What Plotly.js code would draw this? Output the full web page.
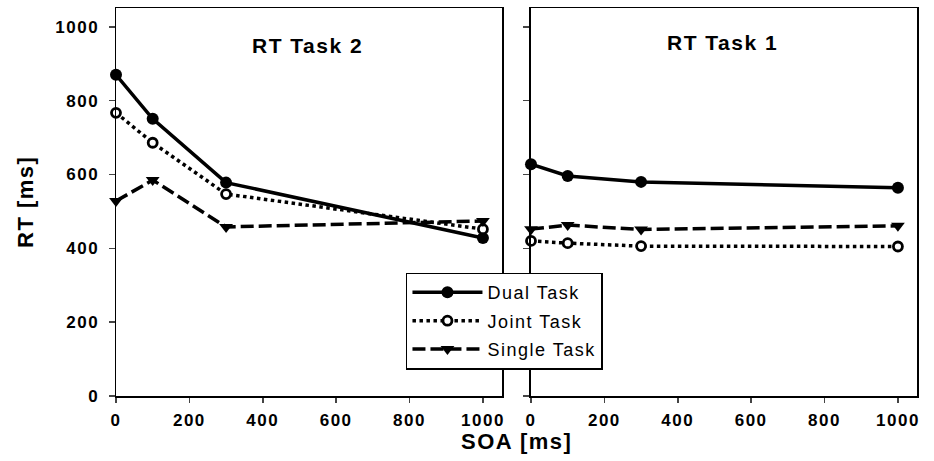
<!DOCTYPE html>
<html>
<head>
<meta charset="utf-8">
<script src="https://cdn.plot.ly/plotly-3.0.1.min.js"></script>
<style>
html,body{margin:0;padding:0;background:#fff;}
#chart{width:934px;height:461px;}
svg text{letter-spacing:1.5px;}
</style>
</head>
<body>
<div id="chart"></div>
<script>
var soa = [0, 100, 300, 1000];
var task2Dual = [870, 751, 578, 428];
var task2Joint = [767, 686, 547, 452];
var task2Single = [528, 585, 458, 474];
var task1Dual = [628, 596, 580, 564];
var task1Joint = [420, 414, 406, 405];
var task1Single = [452, 463, 451, 461];
var seriesNames = ['Dual Task', 'Joint Task', 'Single Task'];
var panelTitles = ['RT Task 2', 'RT Task 1'];
var xTicks = [0, 200, 400, 600, 800, 1000];
var yTicks = [0, 200, 400, 600, 800, 1000];

var FONT = 'Arial, Liberation Sans, sans-serif';
var styles = [
  {line: {color: 'black', width: 3.5, dash: 'solid'}, marker: {symbol: 'circle', size: 12, color: 'black'}},
  {line: {color: 'black', width: 3.5, dash: 'dot'}, marker: {symbol: 'circle', size: 9, color: 'white', line: {color: 'black', width: 2.8}}},
  {line: {color: 'black', width: 3.5, dash: '13px,5px'}, marker: {symbol: 'triangle-down', size: 12, color: 'black'}}
];

var panels = [[task2Dual, task2Joint, task2Single], [task1Dual, task1Joint, task1Single]];
var traces = [];
panels.forEach(function (p, pi) {
  p.forEach(function (vals, si) {
    traces.push({
      x: soa, y: vals, type: 'scatter', mode: 'lines+markers',
      name: seriesNames[si], line: styles[si].line, marker: styles[si].marker,
      xaxis: pi === 0 ? 'x' : 'x2', yaxis: pi === 0 ? 'y' : 'y2',
      legendgroup: 'g' + si,
      showlegend: pi === 0, cliponaxis: false
    });
  });
});

var tickFont = {family: FONT, size: 17, color: 'black', weight: 'bold'};
function xax(domain) {
  return {domain: domain, range: [0, 1052], tickvals: xTicks, ticks: 'outside', ticklen: 5, tickwidth: 1.5,
    showline: true, linewidth: 1.5, linecolor: 'black', mirror: true, showgrid: false, zeroline: false,
    tickfont: tickFont, ticklabelstandoff: 3, fixedrange: true};
}
function yax(labels, anchor) {
  return {range: [0, 1051], tickvals: yTicks, ticks: 'outside', ticklen: 6, tickwidth: 1.5,
    showline: true, linewidth: 1.5, linecolor: 'black', mirror: true, showgrid: false, zeroline: false,
    showticklabels: labels, tickfont: tickFont, ticklabelstandoff: 6, anchor: anchor};
}

var layout = {
  width: 934, height: 461,
  margin: {l: 116, r: 17, t: 8, b: 65},
  paper_bgcolor: 'white', plot_bgcolor: 'white',
  font: {family: FONT, color: 'black'},
  xaxis: xax([0, 0.4819]),
  xaxis2: xax([0.5181, 1]),
  yaxis: yax(true, 'x'),
  yaxis2: yax(false, 'x2'),
  showlegend: true,
  legend: {x: 0.362, y: 0.318, xanchor: 'left', yanchor: 'top', bordercolor: 'black', borderwidth: 1.5,
    bgcolor: 'white', font: {family: FONT, size: 18, color: 'black'},
    itemwidth: 70, tracegroupgap: 2},
  annotations: [
    {text: panelTitles[0], x: 0.2385, xref: 'paper', xanchor: 'center', y: 0.903, yref: 'paper', yanchor: 'middle', showarrow: false,
      font: {family: FONT, size: 21, weight: 'bold', color: 'black'}},
    {text: panelTitles[1], x: 0.7566, xref: 'paper', xanchor: 'center', y: 0.911, yref: 'paper', yanchor: 'middle', showarrow: false,
      font: {family: FONT, size: 21, weight: 'bold', color: 'black'}},
    {text: 'RT [ms]', x: (25 - 116) / 801, xref: 'paper', xanchor: 'center', y: 0.5, yref: 'paper', yanchor: 'middle',
      showarrow: false, textangle: -90, font: {family: FONT, size: 22, weight: 'bold', color: 'black'}},
    {text: 'SOA [ms]', x: 0.5, xref: 'paper', xanchor: 'center', y: (396 - 441) / 388, yref: 'paper', yanchor: 'middle', showarrow: false,
      font: {family: FONT, size: 22, weight: 'bold', color: 'black'}}
  ]
};

Plotly.newPlot('chart', traces, layout, {displayModeBar: false, staticPlot: true});
</script>
</body>
</html>
